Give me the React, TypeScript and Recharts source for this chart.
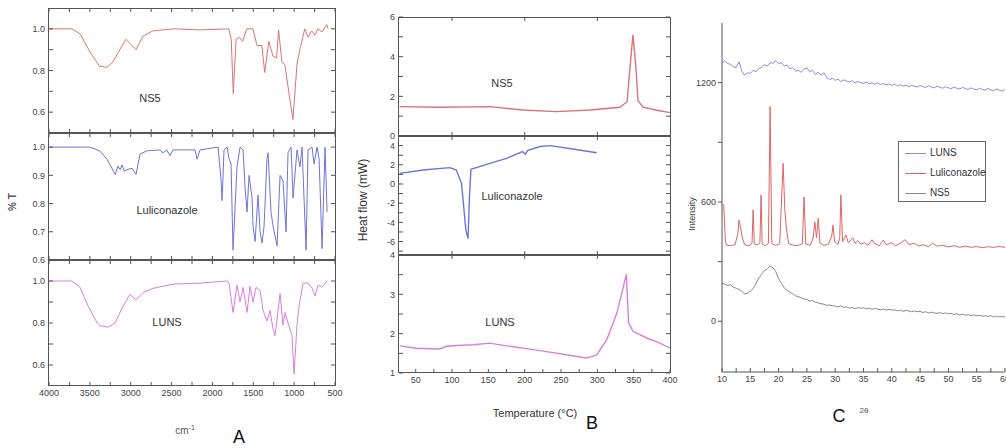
import React from "react";
import { LineChart, Line, XAxis, YAxis } from "recharts";

const FONT = '"Liberation Sans Narrow", "Liberation Sans", Arial, sans-serif';

// ---- A: FTIR (wavenumber cm-1, %T) ----
const ftirNs5Wn = [
  4000, 3720, 3620, 3500, 3380, 3290, 3220, 3060, 2935, 2850, 2730, 2480, 2150, 1800,
  1770, 1745, 1710, 1670, 1630, 1580, 1505, 1455, 1395, 1360, 1310, 1260, 1215, 1190,
  1150, 1115, 1080, 1015, 965, 930, 870, 830, 785, 745, 710, 660, 600, 585,
];
const ftirNs5T = [
  1.0, 1.0, 0.976, 0.89, 0.82, 0.815, 0.84, 0.95, 0.9, 0.965, 0.99, 1.0, 0.995, 1.0,
  0.95, 0.69, 0.95, 0.96, 0.94, 1.0, 1.0, 0.92, 0.92, 0.79, 0.94, 0.87, 0.86, 0.995,
  0.84, 0.83, 0.735, 0.565, 0.83, 0.9, 1.0, 0.96, 0.99, 0.97, 1.0, 0.985, 1.02, 1.0,
];

const ftirLulWn = [
  4000, 3500, 3380, 3290, 3190, 3155, 3130, 3106, 3080, 3045,
  2984, 2935, 2886, 2800, 2640, 2605, 2560, 2519, 2482, 2213,
  2188, 2152, 1931, 1895, 1882, 1858, 1821, 1797, 1772, 1748,
  1699, 1662, 1625, 1601, 1576, 1552, 1515, 1503, 1478, 1442,
  1417, 1393, 1368, 1332, 1319, 1283, 1258, 1209, 1172, 1136,
  1099, 1075, 1038, 1013, 965, 928, 903, 879, 854, 830,
  781, 756, 720, 695, 658, 622, 597,
];
const ftirLulT = [
  1.0, 1.0, 0.987, 0.957, 0.903, 0.933, 0.92, 0.937, 0.915, 0.92,
  0.925, 0.903, 0.975, 0.987, 0.99, 0.98, 0.99, 0.97, 0.99, 0.99,
  0.957, 0.99, 1.0, 0.886, 0.81, 0.99, 1.0, 0.96, 0.94, 0.635,
  0.93, 1.0, 0.99, 0.857, 0.77, 0.9, 0.82, 0.72, 0.665, 0.83,
  0.7, 0.66, 0.72, 0.96, 0.98, 0.77, 0.72, 0.65, 0.9, 0.88,
  0.7, 0.98, 1.0, 0.82, 0.99, 0.93, 1.0, 0.82, 0.635, 0.99,
  1.0, 0.94, 1.0, 0.96, 0.64, 1.0, 0.77,
];

const ftirLunsWn = [
  4000, 3720, 3620, 3520, 3410, 3376, 3280, 3192, 3094, 3008,
  2935, 2850, 2727, 2482, 2152, 1821, 1797, 1748, 1699, 1662,
  1625, 1576, 1540, 1503, 1466, 1417, 1380, 1332, 1295, 1258,
  1234, 1197, 1172, 1136, 1111, 1075, 1026, 1001, 965, 940,
  891, 830, 781, 744, 707, 658, 597,
];
const ftirLunsT = [
  1.0, 1.0, 0.97, 0.88, 0.8, 0.787, 0.78, 0.8, 0.88, 0.937,
  0.91, 0.945, 0.965, 0.985, 0.99, 1.0, 0.99, 0.85, 0.98, 0.9,
  0.97, 0.85, 0.975, 0.9, 0.97, 0.955, 0.86, 0.81, 0.86, 0.77,
  0.74, 0.86, 0.94, 0.79, 0.85, 0.8, 0.74, 0.557, 0.79, 0.88,
  0.99, 0.99, 0.965, 0.93, 0.98, 0.97, 1.0,
];

const ftirTicks = [500, 750, 1000, 1250, 1500, 1750, 2000, 2250, 2500, 2750, 3000, 3250, 3500, 3750, 4000];
const ftirLabels = [500, 1000, 1500, 2000, 2500, 3000, 3500, 4000];
const tTicks = [0.6, 0.7, 0.8, 0.9, 1.0];
const tLabelsEven = [0.6, 0.8, 1.0];

// ---- B: DSC (temperature °C, heat flow mW) ----
const dscNs5Temp = [28, 83, 152, 197, 244, 290, 331, 341, 345, 349, 353, 356, 363, 382, 400];
const dscNs5Flow = [1.48, 1.45, 1.48, 1.31, 1.23, 1.31, 1.45, 1.73, 3.5, 5.1, 3.5, 1.78, 1.45, 1.3, 1.18];

const dscLulTemp = [28, 60, 97, 106, 113, 116, 119, 122, 124, 126, 152, 175, 197, 201, 204, 221, 235, 266, 299];
const dscLulFlow = [1.1, 1.46, 1.7, 1.46, 0.07, -2.3, -4.8, -5.7, -1.3, 1.53, 2.15, 2.67, 3.37, 3.1, 3.48, 3.9, 4.0, 3.65, 3.26];

const dscLunsTemp = [28, 51, 83, 92, 106, 129, 152, 175, 221, 266, 285, 299, 313, 327, 336, 340, 343, 349, 368, 386, 400];
const dscLunsFlow = [1.69, 1.63, 1.61, 1.68, 1.7, 1.72, 1.76, 1.69, 1.57, 1.44, 1.38, 1.46, 1.85, 2.53, 3.21, 3.51, 2.28, 2.06, 1.89, 1.76, 1.63];

const tempTicks = [50, 75, 100, 125, 150, 175, 200, 225, 250, 275, 300, 325, 350, 375, 400];
const tempLabels = [50, 100, 150, 200, 250, 300, 350, 400];
const tempInner = [100, 200, 300];

// ---- C: XRD (2θ, intensity) ----
const xrdAngles = [
  10, 10.5, 11, 11.5, 12, 12.5, 13, 13.5, 14, 14.5,
  15, 15.5, 16, 16.5, 17, 17.5, 18, 18.5, 19, 19.5,
  20, 20.5, 21, 21.5, 22, 22.5, 23, 23.5, 24, 24.5,
  25, 25.5, 26, 26.5, 27, 27.5, 28, 28.5, 29, 29.5,
  30, 30.5, 31, 31.5, 32, 32.5, 33, 33.5, 34, 34.5,
  35, 35.5, 36, 36.5, 37, 37.5, 38, 38.5, 39, 39.5,
  40, 40.5, 41, 41.5, 42, 42.5, 43, 43.5, 44, 44.5,
  45, 45.5, 46, 46.5, 47, 47.5, 48, 48.5, 49, 49.5,
  50, 50.5, 51, 51.5, 52, 52.5, 53, 53.5, 54, 54.5,
  55, 55.5, 56, 56.5, 57, 57.5, 58, 58.5, 59, 59.5,
  60,
];
const xrdLuns = [
  1298, 1310, 1296, 1292, 1280, 1276, 1305, 1258, 1238, 1250,
  1246, 1262, 1255, 1270, 1278, 1290, 1284, 1300, 1298, 1310,
  1296, 1300, 1284, 1288, 1270, 1276, 1258, 1262, 1252, 1268,
  1274, 1256, 1262, 1240, 1252, 1238, 1250, 1226, 1216, 1222,
  1212, 1218, 1206, 1214, 1208, 1204, 1210, 1198, 1206, 1200,
  1196, 1204, 1194, 1200, 1192, 1198, 1190, 1196, 1188, 1194,
  1186, 1192, 1184, 1190, 1182, 1188, 1180, 1186, 1182, 1178,
  1186, 1180, 1176, 1184, 1178, 1174, 1182, 1176, 1172, 1180,
  1174, 1170, 1178, 1172, 1168, 1176, 1170, 1166, 1174, 1168,
  1164, 1172, 1166, 1162, 1170, 1164, 1160, 1168, 1162, 1158,
  1166,
];
const xrdNs5 = [
  192, 186, 180, 184, 172, 166, 160, 150, 138, 140,
  152, 164, 190, 218, 236, 256, 262, 278, 270, 250,
  214, 190, 168, 156, 146, 138, 128, 124, 118, 112,
  110, 102, 104, 96, 92, 88, 86, 80, 82, 78,
  76, 72, 78, 70, 72, 66, 70, 64, 68, 66,
  68, 62, 66, 60, 64, 62, 58, 62, 56, 60,
  56, 58, 52, 56, 50, 54, 52, 48, 52, 48,
  50, 44, 48, 42, 46, 42, 40, 44, 38, 42,
  38, 40, 34, 38, 32, 36, 30, 34, 28, 32,
  28, 30, 26, 28, 24, 28, 22, 26, 22, 24,
  22,
];
const xrdLulAngles = [
  10, 10.3, 10.6, 10.8, 11.5, 12.3, 12.8, 13.0, 13.3, 13.6, 14.0, 14.8, 15.3, 15.5, 15.7,
  16.3, 16.7, 16.9, 17.1, 17.7, 18.2, 18.5, 18.8, 19.5, 20.2, 20.5, 20.8, 21.1, 21.4, 21.8,
  22.5, 23.2, 24.2, 24.5, 24.8, 25.6, 26.1, 26.4, 26.7, 27.0, 27.3, 28.0, 28.8, 29.4, 29.6,
  29.9, 30.5, 30.8, 31.0, 31.3, 31.9, 32.3, 32.8, 33.1, 33.5, 34.0, 34.5, 35.2, 35.8, 36.5,
  37.0, 37.8, 38.5, 39.0, 40.0, 40.6, 41.5, 42.3, 43.0, 44.0, 44.8, 45.5, 46.5, 47.2, 48.0,
  49.0, 50.0, 51.0, 52.0, 53.0, 54.0, 55.0, 56.0, 57.0, 58.0, 59.0, 60.0,
];
const xrdLul = [
  590, 585, 400, 383, 380, 386, 440, 509, 470, 420, 385, 380, 392, 560, 390,
  384, 395, 635, 388, 380, 392, 1080, 390, 382, 390, 600, 795, 560, 460, 390,
  384, 380, 390, 625, 388, 382, 420, 500, 420, 518, 395, 382, 388, 430, 484,
  400, 386, 420, 635, 400, 434, 395, 410, 420, 392, 405, 388, 395, 382, 410,
  390, 380, 408, 385, 395, 380, 392, 410, 386, 392, 378, 385, 375, 392, 378,
  382, 374, 380, 372, 378, 372, 376, 370, 375, 372, 376, 372,
];
const xrdTicks = [10, 12.5, 15, 17.5, 20, 22.5, 25, 27.5, 30, 32.5, 35, 37.5, 40, 42.5, 45, 47.5, 50, 52.5, 55, 57.5, 60];
const xrdLabels = [10, 15, 20, 25, 30, 35, 40, 45, 50, 55, 60];
const intensityTicks = [0, 300, 600, 900, 1200];
const intensityLabels = [0, 600, 1200];

const RED = "#db7478";
const BLUE = "#7272da";
const PINK = "#d580dc";

const legendItems = [
  { name: "LUNS", color: "#8a8ae6" },
  { name: "Luliconazole", color: "#e06464" },
  { name: "NS5", color: "#8a8a8a" },
];

const AXIS = "#555";
const TICK = { fontSize: 9, fill: "#444", fontFamily: FONT };

const zip = (xs: number[], ys: number[]) => xs.map((x, i) => ({ x, y: ys[i] }));
const only = (labels: number[], fmt: (v: number) => string) => (v: number) =>
  labels.includes(v) ? fmt(v) : "";
const blank = () => "";

interface PanelProps {
  x: number;
  y: number;
  w: number;
  h: number;
  data: { x: number; y: number }[];
  color: string;
  lineWidth: number;
  xDomain: [number, number];
  reversed?: boolean;
  bottomTicks: number[];
  bottomLabels?: number[];
  topTicks: number[];
  yDomain: [number, number];
  yTicks: number[];
  yLabels: number[];
  yFmt: (v: number) => string;
  yWidth: number;
}

// one framed sub-plot; x/y/w/h is the plot box in page pixels
function Panel(p: PanelProps) {
  const mt = 8;
  const mr = 14;
  const bottomH = p.bottomLabels ? 20 : 1;
  const mb = 8;
  return (
    <>
      <div style={{ position: "absolute", left: p.x - p.yWidth, top: p.y - mt - 1 }}>
        <LineChart
          width={p.yWidth + p.w + 1 + mr}
          height={mt + 1 + p.h + bottomH + mb}
          data={p.data}
          margin={{ top: mt, right: mr, bottom: mb, left: 0 }}
        >
          <XAxis
            xAxisId="b"
            dataKey="x"
            type="number"
            domain={p.xDomain}
            reversed={p.reversed}
            allowDataOverflow
            ticks={p.bottomTicks}
            interval={0}
            height={bottomH}
            axisLine={false}
            tickSize={-4}
            tickMargin={8}
            tick={TICK}
            tickFormatter={p.bottomLabels ? only(p.bottomLabels, String) : blank}
            stroke={AXIS}
          />
          <XAxis
            xAxisId="t"
            orientation="top"
            dataKey="x"
            type="number"
            domain={p.xDomain}
            reversed={p.reversed}
            allowDataOverflow
            ticks={p.topTicks}
            interval={0}
            height={1}
            axisLine={false}
            tickSize={-4}
            tick={TICK}
            tickFormatter={blank}
            stroke={AXIS}
          />
          <YAxis
            yAxisId="l"
            type="number"
            domain={p.yDomain}
            allowDataOverflow
            ticks={p.yTicks}
            interval={0}
            width={p.yWidth}
            axisLine={false}
            tickSize={-4}
            tickMargin={8}
            tick={TICK}
            tickFormatter={only(p.yLabels, p.yFmt)}
            stroke={AXIS}
          />
          <YAxis
            yAxisId="r"
            orientation="right"
            type="number"
            domain={p.yDomain}
            allowDataOverflow
            ticks={p.yTicks}
            interval={0}
            width={1}
            axisLine={false}
            tickSize={-4}
            tick={TICK}
            tickFormatter={blank}
            stroke={AXIS}
          />
          <Line
            xAxisId="b"
            yAxisId="l"
            type="linear"
            dataKey="y"
            stroke={p.color}
            strokeWidth={p.lineWidth}
            dot={false}
            isAnimationActive={false}
          />
        </LineChart>
      </div>
      <div
        style={{
          position: "absolute",
          left: p.x - 1,
          top: p.y,
          width: p.w + 2,
          height: p.h,
          border: `1px solid ${AXIS}`,
          boxSizing: "border-box",
          pointerEvents: "none",
        }}
      />
    </>
  );
}

function Note(props: {
  x: number;
  y: number;
  text: React.ReactNode;
  size?: number;
  rotate?: boolean;
  color?: string;
  weight?: number;
  family?: string;
}) {
  const { x, y, text, size = 11, rotate, color = "#333", weight = 400, family = FONT } = props;
  return (
    <div
      style={{
        position: "absolute",
        left: x,
        top: y,
        transform: `translate(-50%, -50%)${rotate ? " rotate(-90deg)" : ""}`,
        fontSize: size,
        fontFamily: family,
        fontWeight: weight,
        color,
        whiteSpace: "nowrap",
        lineHeight: 1,
      }}
    >
      {text}
    </div>
  );
}

const fix1 = (v: number) => v.toFixed(1);

export default function App() {
  const xrdRows = xrdAngles.map((t, i) => ({ t, luns: xrdLuns[i], ns5: xrdNs5[i] }));
  const lulRows = xrdLulAngles.map((t, i) => ({ t, lul: xrdLul[i] }));

  const ftirCommon = {
    x: 49,
    w: 286,
    xDomain: [500, 4000] as [number, number],
    reversed: true,
    topTicks: ftirTicks,
    yFmt: fix1,
    yWidth: 49,
    lineWidth: 1,
  };
  const dscCommon = {
    x: 399,
    w: 271,
    xDomain: [27, 400] as [number, number],
    yFmt: (v: number) => String(v),
    yWidth: 30,
    lineWidth: 1.4,
  };

  return (
    <div
      style={{
        position: "absolute",
        left: 0,
        top: 0,
        width: 1006,
        height: 448,
        overflow: "hidden",
        background: "#fff",
      }}
    >
      {/* A: FTIR */}
      <Panel
        {...ftirCommon}
        y={8}
        h={125}
        data={zip(ftirNs5Wn, ftirNs5T)}
        color={RED}
        bottomTicks={ftirTicks}
        yDomain={[0.5, 1.1]}
        yTicks={tTicks}
        yLabels={tLabelsEven}
      />
      <Panel
        {...ftirCommon}
        y={133}
        h={127}
        data={zip(ftirLulWn, ftirLulT)}
        color={BLUE}
        bottomTicks={ftirTicks}
        yDomain={[0.6, 1.05]}
        yTicks={tTicks}
        yLabels={tTicks}
      />
      <Panel
        {...ftirCommon}
        y={260}
        h={126}
        data={zip(ftirLunsWn, ftirLunsT)}
        color={PINK}
        bottomTicks={ftirTicks}
        bottomLabels={ftirLabels}
        yDomain={[0.5, 1.1]}
        yTicks={tTicks}
        yLabels={tLabelsEven}
      />
      <Note x={150} y={98} text="NS5" />
      <Note x={167} y={210} text="Luliconazole" />
      <Note x={167} y={322} text="LUNS" />
      <Note x={13} y={202} text="% T" rotate size={10} weight={700} color="#555" />
      <Note x={185} y={430} size={10} color="#555" text={<span>cm<sup style={{ fontSize: 7 }}>-1</sup></span>} />
      <Note x={239} y={437} text="A" size={18} color="#111" family="Arial, sans-serif" />

      {/* B: DSC */}
      <Panel
        {...dscCommon}
        y={17}
        h={119}
        data={zip(dscNs5Temp, dscNs5Flow)}
        color={RED}
        bottomTicks={tempInner}
        topTicks={tempInner}
        yDomain={[0, 6]}
        yTicks={[0, 1, 2, 3, 4, 5, 6]}
        yLabels={[0, 2, 4, 6]}
      />
      <Panel
        {...dscCommon}
        y={136}
        h={119}
        data={zip(dscLulTemp, dscLulFlow)}
        color={BLUE}
        bottomTicks={tempInner}
        topTicks={tempInner}
        yDomain={[-7.4, 5]}
        yTicks={[-7, -6, -5, -4, -3, -2, -1, 0, 1, 2, 3, 4]}
        yLabels={[-6, -4, -2, 0, 2, 4]}
      />
      <Panel
        {...dscCommon}
        y={255}
        h={118}
        data={zip(dscLunsTemp, dscLunsFlow)}
        color={PINK}
        bottomTicks={tempTicks}
        bottomLabels={tempLabels}
        topTicks={tempInner}
        yDomain={[1, 4]}
        yTicks={[1, 1.5, 2, 2.5, 3, 3.5, 4]}
        yLabels={[1, 2, 3, 4]}
      />
      <Note x={502} y={83} text="NS5" />
      <Note x={512} y={196} text="Luliconazole" />
      <Note x={500} y={322} text="LUNS" />
      <Note x={363} y={200} text="Heat flow (mW)" rotate size={12} color="#333" />
      <Note x={535} y={413} text="Temperature (°C)" size={11} color="#333" />
      <Note x={592} y={423} text="B" size={18} color="#111" family="Arial, sans-serif" />

      {/* C: XRD */}
      <div style={{ position: "absolute", left: 722 - 40, top: 21 }}>
        <LineChart width={40 + 283 + 20} height={2 + 349 + 22} margin={{ top: 2, right: 20, bottom: 0, left: 0 }}>
          <XAxis
            dataKey="t"
            type="number"
            domain={[10, 60]}
            allowDataOverflow
            ticks={xrdTicks}
            interval={0}
            height={22}
            tickSize={-4}
            tickMargin={8}
            tick={TICK}
            tickFormatter={only(xrdLabels, String)}
            stroke={AXIS}
          />
          <YAxis
            type="number"
            domain={[-255, 1500]}
            allowDataOverflow
            ticks={intensityTicks}
            interval={0}
            width={40}
            tickSize={4}
            tickMargin={2}
            tick={TICK}
            tickFormatter={only(intensityLabels, String)}
            stroke={AXIS}
          />
          <Line data={xrdRows} type="linear" dataKey="luns" stroke="#8a8ae6" strokeWidth={1} dot={false} isAnimationActive={false} />
          <Line data={lulRows} type="linear" dataKey="lul" stroke="#e06464" strokeWidth={1} dot={false} isAnimationActive={false} />
          <Line data={xrdRows} type="linear" dataKey="ns5" stroke="#8a8a8a" strokeWidth={1} dot={false} isAnimationActive={false} />
        </LineChart>
      </div>
      <Note x={692} y={214} text="Intensity" rotate size={9} color="#444" />
      <Note x={839} y={416} text="C" size={18} color="#111" family="Arial, sans-serif" />
      <Note x={864} y={411} text="2θ" size={8} color="#555" />
      <div
        style={{
          position: "absolute",
          left: 898,
          top: 141,
          width: 86,
          height: 59,
          border: "1px solid #666",
          background: "#fff",
          fontFamily: FONT,
          fontSize: 10,
          color: "#333",
        }}
      >
        {legendItems.map((item, i) => (
          <div
            key={item.name}
            style={{ position: "absolute", left: 6, top: 6 + i * 20, display: "flex", alignItems: "center", lineHeight: 1 }}
          >
            <span style={{ display: "inline-block", width: 21, height: 1, background: item.color, marginRight: 4 }} />
            <span>{item.name}</span>
          </div>
        ))}
      </div>
    </div>
  );
}
